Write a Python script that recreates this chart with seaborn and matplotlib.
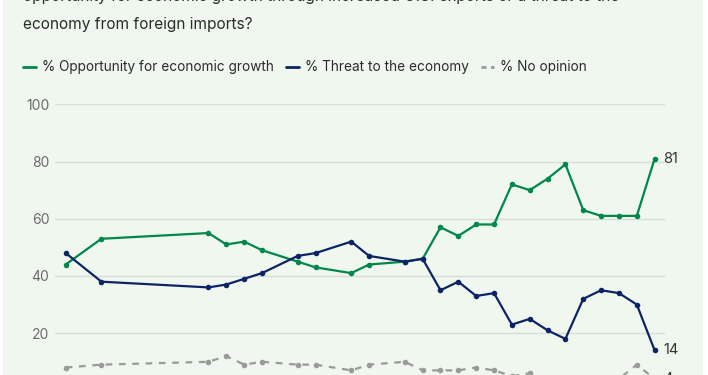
import numpy as np
import pandas as pd
import matplotlib.pyplot as plt
import seaborn as sns
from matplotlib.lines import Line2D
from matplotlib.patches import Rectangle

# survey years and percentages
years = [1992, 1994, 2000, 2001, 2002, 2003, 2005, 2006, 2008, 2009, 2011, 2012,
         2013, 2014, 2015, 2016, 2017, 2018, 2019, 2020, 2021, 2022, 2023, 2024, 2025]
opportunity = [44, 53, 55, 51, 52, 49, 45, 43, 41, 44, 45, 46,
               57, 54, 58, 58, 72, 70, 74, 79, 63, 61, 61, 61, 81]
threat = [48, 38, 36, 37, 39, 41, 47, 48, 52, 47, 45, 46,
          35, 38, 33, 34, 23, 25, 21, 18, 32, 35, 34, 30, 14]
no_opinion = [8, 9, 10, 12, 9, 10, 9, 9, 7, 9, 10, 7,
              7, 7, 8, 7, 5, 6, 4, 3, 4, 4, 4, 9, 4]

series_names = ['% Opportunity for economic growth', '% Threat to the economy', '% No opinion']
colors = ['#00874A', '#0C2466', '#9A9A9A']
y_ticks = [20, 40, 60, 80, 100]

df = pd.DataFrame({
    'year': years * 3,
    'value': opportunity + threat + no_opinion,
    'series': np.repeat(series_names, len(years)),
})

sns.set_style('white')
plt.rcParams['font.family'] = ['Inter', 'DejaVu Sans']

W, H = 708, 375
fig = plt.figure(figsize=(W / 100, H / 100), dpi=100, facecolor='white')
fig.patches.append(Rectangle((3 / W, 0), 700 / W, 1, transform=fig.transFigure,
                             facecolor='#F0F7EF', edgecolor='none', zorder=-10))

# axes runs below the bottom edge of the picture (0 line is cropped)
ax = fig.add_axes([55 / W, (H - 390.4) / H, 610 / W, 286.1 / H])
ax.set_facecolor('none')

for name, col in zip(series_names, colors):
    sub = df[df['series'] == name]
    dashed = name == '% No opinion'
    sns.lineplot(data=sub, x='year', y='value', ax=ax, color=col, lw=1.6,
                 marker='o', markersize=4, markeredgewidth=0,
                 linestyle='--' if dashed else '-', dashes=False, legend=False,
                 clip_on=False, zorder=3)
    if dashed:
        ax.lines[-1].set_dashes([3, 3])

ax.set_xlim(1991.4, 2025.58)
ax.set_ylim(0, 100)
ax.set_yticks(y_ticks)
ax.set_xticks([])
ax.yaxis.grid(True, color='#D8DDD8', lw=1)
ax.tick_params(axis='y', length=0, pad=4, labelsize=10, labelcolor='#6B6B6B')
ax.set_xlabel('')
ax.set_ylabel('')
for s in ax.spines.values():
    s.set_visible(False)

# end labels
for vals in (opportunity, threat, no_opinion):
    ax.annotate(str(vals[-1]), (years[-1], vals[-1]), xytext=(6, 0),
                textcoords='offset points', va='center', ha='left',
                fontsize=10.5, color='#333333', annotation_clip=False)

# title (first line cropped at top)
fig.text(23 / W, 1 - 1.5 / H,
         'opportunity for economic growth through increased U.S. exports or a threat to the',
         fontsize=11.1, color='#2B2B2B', va='baseline', ha='left')
fig.text(23 / W, 1 - 29.5 / H, 'economy from foreign imports?',
         fontsize=11.1, color='#2B2B2B', va='baseline', ha='left')

handles = [Line2D([], [], color=colors[0], lw=2),
           Line2D([], [], color=colors[1], lw=2),
           Line2D([], [], color=colors[2], lw=2, dashes=[1.8, 1.6])]
fig.legend(handles, series_names, loc='center left', bbox_to_anchor=(23 / W, 1 - 67.5 / H),
           ncol=3, frameon=False, fontsize=9.8, handlelength=0.95, handletextpad=0.45,
           columnspacing=0.9, borderpad=0, borderaxespad=0, labelcolor='#2B2B2B')

fig.savefig('out.png', dpi=100, facecolor='white')
